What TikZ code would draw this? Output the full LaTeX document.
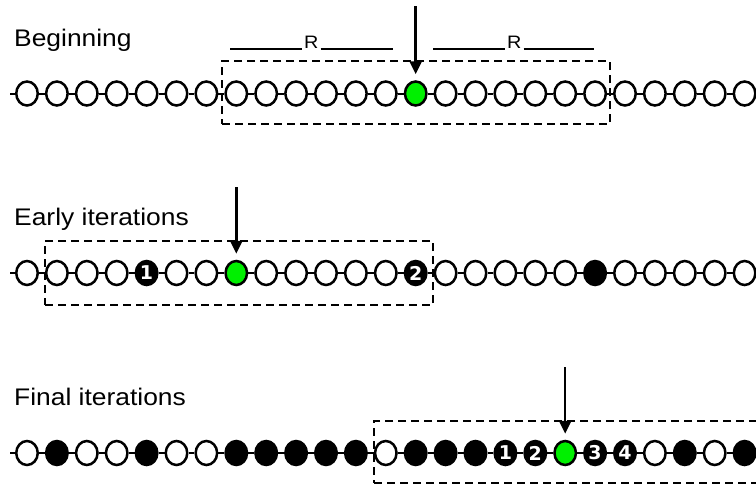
\documentclass[tikz,border=0pt]{standalone}
\usepackage{fontspec}
\setmainfont{Liberation Sans}
\newfontfamily\digitfont{DejaVu Sans}
\usetikzlibrary{shapes.geometric,arrows.meta}
\definecolor{beadgreen}{RGB}{0,240,0}
\tikzset{
  bead/.style={ellipse, draw=black, line width=2.5pt, minimum width=21.5pt,
    minimum height=24pt, inner sep=0pt, text=white,
    font=\digitfont\bfseries\fontsize{19}{19}\selectfont},
  link/.style={line width=2pt},
  window/.style={draw, rectangle, line width=2.5pt, dash pattern=on 8pt off 5pt,
    inner sep=0pt, minimum width=388pt},
  pointer/.style={line width=2.5pt, -{Triangle[length=13pt,width=12pt]}, shorten >=6pt},
  rowlabel/.style={anchor=base west, inner sep=0pt, font=\fontsize{24}{28}\selectfont},
  rlabel/.style={anchor=base west, inner sep=0pt, font=\fontsize{18}{18}\selectfont}
}
\newcommand\drawchain[3]{%
  \foreach \i/\k/\t in {#3} {%
    \ifcase\k \def\bs{white}\or\def\bs{black}\or\def\bs{beadgreen}\fi
    \node[bead, fill=\bs] (#1\i) at ({27+29.9*\i},#2) {\t};
  }
  \coordinate (#1L) at (10,#2);
  \coordinate (#1R) at (760,#2);
  \draw[link] (#1L) -- (#10);
  \foreach \i [evaluate=\i as \j using int(\i+1)] in {0,...,23} {\draw[link] (#1\i) -- (#1\j);}
  \draw[link] (#124) -- (#1R);
}
\begin{document}
\begin{tikzpicture}[x=1pt,y=-1pt]
\useasboundingbox (0,0) rectangle (756,483);
\clip (0,0) rectangle (756,483);

% ---------- Beginning ----------
\node[rowlabel] (t1) at (14,46.5) {\scalebox{1.1}[1]{Beginning}};
\node[rlabel] (r1) at (230,48) {\rule[-1.5pt]{72pt}{1.2pt}\hspace{2pt}\scalebox{1.1}[1]{R}\hspace{2pt}\rule[-1.5pt]{72pt}{1.2pt}};
\node[rlabel] (r2) at (433,48) {\rule[-1.5pt]{72pt}{1.2pt}\hspace{2pt}\scalebox{1.1}[1]{R}\hspace{2pt}\rule[-1.5pt]{70pt}{1.2pt}};
\node[window, minimum height=63pt] (w1) at (416,92.5) {};
\drawchain{a}{93.5}{0/0/{},1/0/{},2/0/{},3/0/{},4/0/{},5/0/{},6/0/{},7/0/{},8/0/{},9/0/{},10/0/{},11/0/{},12/0/{},13/2/{},14/0/{},15/0/{},16/0/{},17/0/{},18/0/{},19/0/{},20/0/{},21/0/{},22/0/{},23/0/{},24/0/{}}
\coordinate (p1) at (a13 |- 0,6);
\draw[pointer] (p1) -- (a13);

% ---------- Early iterations ----------
\node[rowlabel] (t2) at (14,225.5) {\scalebox{1.1}[1]{Early iterations}};
\node[window, minimum height=64pt] (w2) at (239,273) {};
\drawchain{b}{273}{0/0/{},1/0/{},2/0/{},3/0/{},4/1/1,5/0/{},6/0/{},7/2/{},8/0/{},9/0/{},10/0/{},11/0/{},12/0/{},13/1/2,14/0/{},15/0/{},16/0/{},17/0/{},18/0/{},19/1/{},20/0/{},21/0/{},22/0/{},23/0/{},24/0/{}}
\coordinate (p2) at (b7 |- 0,187);
\draw[pointer] (p2) -- (b7);

% ---------- Final iterations ----------
\node[rowlabel] (t3) at (14,405.5) {\scalebox{1.1}[1]{Final iterations}};
\node[window, minimum height=62pt] (w3) at (568,452) {};
\drawchain{c}{453}{0/0/{},1/1/{},2/0/{},3/0/{},4/1/{},5/0/{},6/0/{},7/1/{},8/1/{},9/1/{},10/1/{},11/1/{},12/0/{},13/1/{},14/1/{},15/1/{},16/1/1,17/1/2,18/2/{},19/1/3,20/1/4,21/0/{},22/1/{},23/0/{},24/1/{}}
\coordinate (p3) at (c18 |- 0,367);
\draw[pointer] (p3) -- (c18);
\end{tikzpicture}
\end{document}
